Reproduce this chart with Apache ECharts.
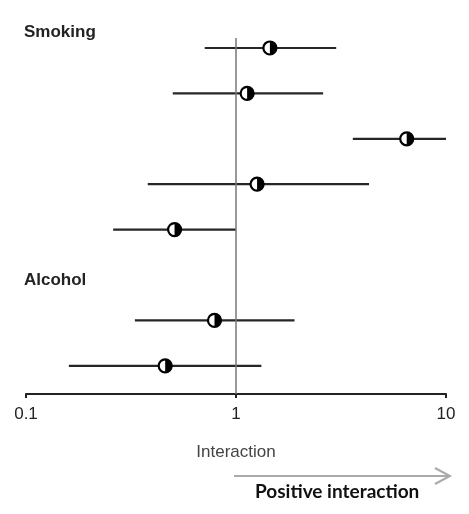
<!DOCTYPE html>
<html>
<head>
<meta charset="utf-8">
<script src="https://cdn.jsdelivr.net/npm/echarts@6/dist/echarts.min.js"></script>
<style>html,body{margin:0;padding:0;background:#fff;}#c{width:469px;height:514px;}</style>
</head>
<body>
<div id="c"></div>
<script>
// Data
var rows = [0, 1, 2, 3, 4, 6, 7];
var estimates = [1.45, 1.13, 6.5, 1.26, 0.51, 0.79, 0.46];
var lowerCI = [0.71, 0.50, 3.6, 0.38, 0.26, 0.33, 0.16];
var upperCI = [3.0, 2.6, 10.0, 4.3, 1.0, 1.9, 1.32];
var groupLabels = ['Smoking', 'Alcohol'];
var xTicks = [0.1, 1, 10];

var data = rows.map(function (r, i) { return [estimates[i], r, lowerCI[i], upperCI[i]]; });

var chart = echarts.init(document.getElementById('c'));
chart.setOption({
  animation: false,
  backgroundColor: '#fff',
  grid: { left: 26, right: 23, top: 38, bottom: 120 },
  xAxis: {
    type: 'log', logBase: 10, min: 0.1, max: 10, position: 'bottom',
    name: 'Interaction', nameLocation: 'middle', nameGap: 50,
    nameTextStyle: { fontFamily: 'Liberation Sans', fontSize: 17, color: '#444' },
    axisLine: { onZero: false, lineStyle: { color: '#222', width: 2 } },
    axisTick: { show: true, length: 4, lineStyle: { color: '#222', width: 2 } },
    minorTick: { show: false },
    splitLine: { show: false },
    axisLabel: {
      margin: 12, fontFamily: 'Liberation Sans', fontSize: 17, color: '#222',
      formatter: function (v) { return String(v); }
    }
  },
  yAxis: { type: 'value', inverse: true, min: -0.22, max: 7.62, show: false },
  series: [{
    type: 'custom',
    data: data,
    encode: { x: 0, y: 1 },
    renderItem: function (params, api) {
      var p = api.coord([api.value(0), api.value(1)]);
      var lo = api.coord([api.value(2), api.value(1)]);
      var hi = api.coord([api.value(3), api.value(1)]);
      var r = 6.5;
      return {
        type: 'group',
        children: [
          { type: 'line', shape: { x1: lo[0], y1: lo[1], x2: hi[0], y2: hi[1] },
            style: { stroke: '#262626', lineWidth: 2.2 } },
          { type: 'circle', shape: { cx: p[0], cy: p[1], r: r },
            style: { fill: '#fff', stroke: '#000', lineWidth: 2.2 } },
          { type: 'sector', shape: { cx: p[0], cy: p[1], r0: 0, r: r, startAngle: -Math.PI / 2, endAngle: Math.PI / 2, clockwise: true },
            style: { fill: '#000' } }
        ]
      };
    },
    markLine: {
      silent: true, symbol: 'none', label: { show: false },
      lineStyle: { color: '#777', width: 1.5, type: 'solid' },
      data: [{ xAxis: 1 }]
    },
    z: 3
  }],
  graphic: [
    { type: 'text', left: 24, top: 24, style: { text: groupLabels[0], fontFamily: 'Liberation Sans', fontWeight: 'bold', fontSize: 17, fill: '#222' } },
    { type: 'text', left: 24, top: 272, style: { text: groupLabels[1], fontFamily: 'Liberation Sans', fontWeight: 'bold', fontSize: 17, fill: '#222' } },
    { type: 'line', shape: { x1: 234, y1: 476, x2: 449, y2: 476 }, style: { stroke: '#aaa', lineWidth: 2 } },
    { type: 'polyline', shape: { points: [[435, 468], [450, 476], [435, 484]] }, style: { stroke: '#aaa', lineWidth: 2, fill: null } },
    { type: 'text', left: 255, top: 482, style: { text: 'Positive interaction', fontFamily: 'Lato', fontWeight: 'bold', fontSize: 19, fill: '#111' } }
  ]
});
</script>
</body>
</html>
